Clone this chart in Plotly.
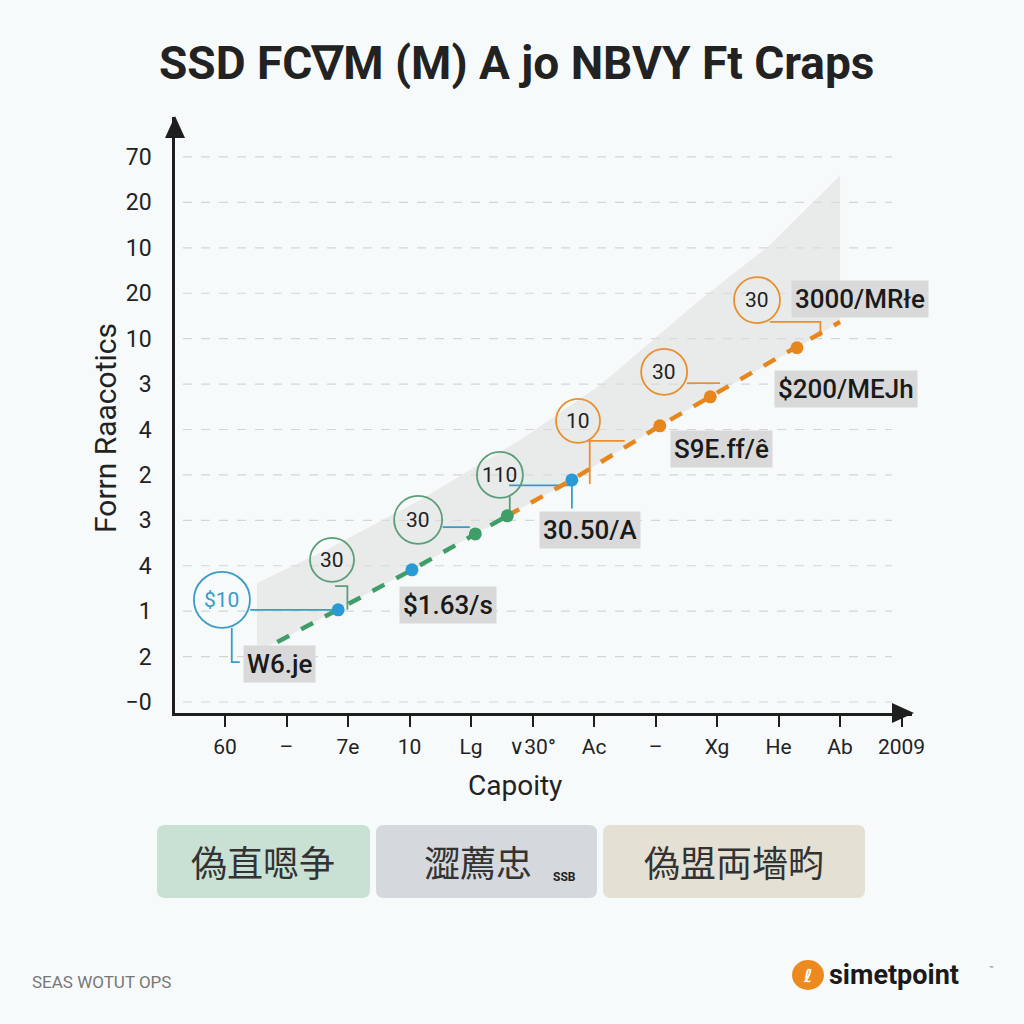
import plotly.graph_objects as go

# ---------------- data ----------------
x_tick_labels = ["60", "–", "7e", "10", "Lg", "∨30°", "Ac", "–", "Xg", "He", "Ab", "2009"]
y_tick_labels = ["−0", "2", "1", "4", "3", "2", "4", "3", "10", "20", "10", "20", "70"]

green_x = [0.85, 1.84, 3.04, 4.07, 4.59]
green_y = [1.32, 2.03, 2.91, 3.70, 4.10]
orange_x = [4.59, 5.64, 7.07, 7.89, 9.30, 10.0]
orange_y = [4.10, 4.89, 6.08, 6.72, 7.80, 8.37]

blue_pts_x = [1.84, 3.04, 5.64]
blue_pts_y = [2.03, 2.91, 4.89]
green_pts_x = [4.07, 4.59]
green_pts_y = [3.70, 4.10]
orange_pts_x = [7.07, 7.89, 9.30]
orange_pts_y = [6.08, 6.72, 7.80]

band_upper_x = [0.52, 1.71, 3.17, 4.80, 6.10, 7.72, 8.86, 10.0]
band_upper_y = [2.62, 3.39, 4.45, 5.77, 6.98, 8.85, 10.06, 11.60]
band_lower_x = [10.0, 9.30, 7.89, 7.07, 5.64, 4.59, 4.07, 3.04, 1.84, 0.85, 0.52]
band_lower_y = [8.37, 7.80, 6.72, 6.08, 4.89, 4.10, 3.70, 2.91, 2.03, 1.32, 1.14]

callout_text = ["$10", "30", "30", "110", "10", "30", "30"]
callout_x = [-0.05, 1.74, 3.14, 4.47, 5.74, 7.14, 8.65]
callout_y = [2.25, 3.13, 4.01, 5.00, 6.19, 7.27, 8.85]
callout_r = [28, 22, 24, 23, 22, 23, 23]
callout_color = ["#3a9cc4", "#5a9e7a", "#5a9e7a", "#5a9e7a", "#e8902e", "#e8902e", "#e8902e"]
callout_text_color = ["#3a9cc4", "#222222", "#222222", "#222222", "#222222", "#222222", "#222222"]

label_text = ["3000/MRłe", "$200/MEJh", "S9E.ff/ê", "30.50/A", "$1.63/s", "W6.je"]
label_x = [10.33, 10.10, 8.08, 5.93, 3.63, 0.89]
label_y = [8.87, 6.89, 5.57, 3.79, 2.14, 0.84]

# connector polylines (data units)
connectors = [
    ("#3a9cc4", [0.41, 1.84], [2.03, 2.03]),
    ("#3a9cc4", [0.11, 0.11, 0.24], [1.63, 0.88, 0.88]),
    ("#5a9e7a", [1.99, 1.99, 1.79], [2.03, 2.55, 2.55]),
    ("#3a9cc4", [3.54, 3.98], [3.85, 3.85]),
    ("#5a9e7a", [4.63, 4.63], [4.53, 4.10]),
    ("#3a9cc4", [4.62, 5.64], [4.77, 4.77]),
    ("#3a9cc4", [5.64, 5.64], [4.89, 4.26]),
    ("#e8902e", [5.90, 6.50], [5.75, 5.75]),
    ("#e8902e", [5.93, 5.93], [5.75, 4.80]),
    ("#e8902e", [7.51, 8.05], [7.02, 7.02]),
    ("#e8902e", [8.86, 9.68, 9.68], [8.37, 8.37, 8.05]),
]

bottom_boxes = ["偽直嗯争", "澀薦忠", "偽盟両墻畇"]
bottom_fill = ["#c9e1d3", "#d5d8dc", "#e4e1d4"]

# ---------------- layout helpers ----------------
L, R, T, B = 175, 912, 117, 713
PW, PH = R - L, B - T


def px(xp):
    return (xp - L) / PW


def py(yp):
    return (B - yp) / PH


fig = go.Figure()

# gray band
fig.add_trace(go.Scatter(
    x=band_upper_x + band_lower_x, y=band_upper_y + band_lower_y,
    fill="toself", fillcolor="rgba(222,222,222,0.55)", line=dict(width=0),
    mode="lines", hoverinfo="skip", showlegend=False))

# connectors
for col, cx, cy in connectors:
    fig.add_trace(go.Scatter(x=cx, y=cy, mode="lines", line=dict(color=col, width=1.8),
                             hoverinfo="skip", showlegend=False))

# dashed lines
fig.add_trace(go.Scatter(x=green_x, y=green_y, mode="lines",
                         line=dict(color="#3f9e68", width=4.5, dash="dash"), showlegend=False))
fig.add_trace(go.Scatter(x=orange_x, y=orange_y, mode="lines",
                         line=dict(color="#e8861e", width=4.5, dash="dash"), showlegend=False))

# markers
fig.add_trace(go.Scatter(x=blue_pts_x, y=blue_pts_y, mode="markers",
                         marker=dict(color="#2a9ad4", size=13), showlegend=False))
fig.add_trace(go.Scatter(x=green_pts_x, y=green_pts_y, mode="markers",
                         marker=dict(color="#3f9e68", size=13), showlegend=False))
fig.add_trace(go.Scatter(x=orange_pts_x, y=orange_pts_y, mode="markers",
                         marker=dict(color="#e8861e", size=13), showlegend=False))

shapes = []
annotations = []


def ann(x, y, text, size, color="#222", family="Roboto", xref="paper", yref="paper", **kw):
    d = dict(x=x, y=y, xref=xref, yref=yref, text=text, showarrow=False,
             xanchor=kw.pop("xanchor", "center"), yanchor=kw.pop("yanchor", "middle"),
             font=dict(family=family, size=size, color=color, **kw.pop("fontkw", {})))
    d.update(kw)
    annotations.append(d)


# gridlines
for i in range(len(y_tick_labels)):
    shapes.append(dict(type="line", xref="paper", yref="y", x0=px(183), x1=px(892), y0=i, y1=i,
                       line=dict(color="#d2d6d8", width=1.2, dash="dash"), layer="below"))

# callout circles
for t, cx, cy, r, col, tc in zip(callout_text, callout_x, callout_y, callout_r, callout_color, callout_text_color):
    shapes.append(dict(type="circle", xref="x", yref="y", xsizemode="pixel", ysizemode="pixel",
                       xanchor=cx, yanchor=cy, x0=-r, x1=r, y0=-r, y1=r,
                       line=dict(color=col, width=1.8), fillcolor="rgba(255,255,255,0)"))
    ann(cx, cy, t, 21, tc, xref="x", yref="y")

# value label boxes
for t, lx, ly in zip(label_text, label_x, label_y):
    ann(lx, ly, t, 26, "#1a1a1a", xref="x", yref="y", bgcolor="#d9d9d9", borderpad=3,
        fontkw=dict(weight=500))

# axis arrowheads
shapes.append(dict(type="path", xref="paper", yref="paper",
                   path=f"M {px(165)} {py(138)} L {px(175)} {py(116)} L {px(185)} {py(138)} Z",
                   fillcolor="#1e1e1e", line=dict(width=0)))
shapes.append(dict(type="path", xref="paper", yref="paper",
                   path=f"M {px(892)} {py(703)} L {px(914)} {py(713)} L {px(892)} {py(723)} Z",
                   fillcolor="#1e1e1e", line=dict(width=0)))


def rounded_rect(x0, y0, x1, y1, r):
    return (f"M {px(x0 + r)} {py(y0)} L {px(x1 - r)} {py(y0)} "
            f"Q {px(x1)} {py(y0)} {px(x1)} {py(y0 + r)} L {px(x1)} {py(y1 - r)} "
            f"Q {px(x1)} {py(y1)} {px(x1 - r)} {py(y1)} L {px(x0 + r)} {py(y1)} "
            f"Q {px(x0)} {py(y1)} {px(x0)} {py(y1 - r)} L {px(x0)} {py(y0 + r)} "
            f"Q {px(x0)} {py(y0)} {px(x0 + r)} {py(y0)} Z")


box_px = [(157, 370), (376, 597), (603, 865)]
box_text_cx = [263, 478, 734]
for (bx0, bx1), t, fc, tcx in zip(box_px, bottom_boxes, bottom_fill, box_text_cx):
    shapes.append(dict(type="path", xref="paper", yref="paper", path=rounded_rect(bx0, 825, bx1, 898, 8),
                       fillcolor=fc, line=dict(width=0), layer="below"))
    ann(px(tcx), py(861), t, 36, "#333333", family="Noto Sans CJK SC")
ann(px(551), py(877), "<b>SSB</b>", 12, "#222", xanchor="left")

# title, axis titles
ann(px(516), py(63), "<b>SSD FC∇M (M) A jo NBVY Ft Craps</b>", 46, "#222")
ann(px(105), py(428), "Forrn Raacotics", 30, "#222", textangle=-90)
ann(px(515), py(785), "Capoity", 28, "#222")

# footer
ann(px(30), py(982), "SEAS WOTUT OPS", 17, "#777", xanchor="left")
shapes.append(dict(type="circle", xref="paper", yref="paper", xsizemode="pixel", ysizemode="pixel",
                   xanchor=px(808), yanchor=py(975), x0=-16, x1=16, y0=-15, y1=15,
                   fillcolor="#ec8a1f", line=dict(width=0)))
ann(px(808), py(975), "<b>ℓ</b>", 18, "white", family="DejaVu Sans")
ann(px(827), py(975), "<b>simetpoint</b>", 27, "#1a1a1a", xanchor="left")
ann(px(987), py(969), "™", 7, "#555", xanchor="left")

fig.update_layout(
    width=1024, height=1024, autosize=False,
    margin=dict(l=L, r=1024 - R, t=T, b=1024 - B),
    paper_bgcolor="#f7fafb", plot_bgcolor="rgba(0,0,0,0)",
    shapes=shapes, annotations=annotations, showlegend=False,
    xaxis=dict(range=[-0.813, 11.17], tickmode="array", tickvals=list(range(len(x_tick_labels))),
               ticktext=x_tick_labels, showgrid=False, zeroline=False, showline=True,
               linecolor="#1e1e1e", linewidth=2.5, ticks="outside", ticklen=11, tickwidth=1.5,
               tickcolor="#1e1e1e", ticklabelstandoff=2,
               tickfont=dict(family="Roboto", size=21, color="#222")),
    yaxis=dict(range=[-0.242, 12.88], tickmode="array", tickvals=list(range(len(y_tick_labels))),
               ticktext=y_tick_labels, showgrid=False, zeroline=False, showline=True,
               linecolor="#1e1e1e", linewidth=2.5, ticks="", ticklabelstandoff=16,
               tickfont=dict(family="Roboto", size=23, color="#222")),
)

fig.write_html("out.html", config={"displayModeBar": False},
               post_script="document.body.style.margin='0';")
